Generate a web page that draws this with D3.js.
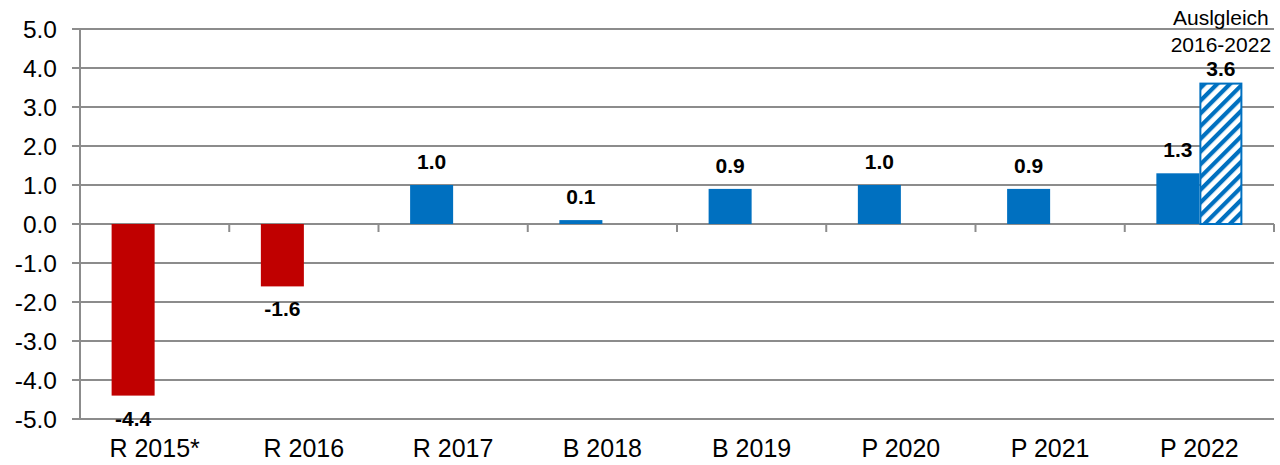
<!DOCTYPE html>
<html>
<head>
<meta charset="utf-8">
<title>Saldo</title>
<script src="https://cdn.jsdelivr.net/npm/d3@7"></script>
<style>
  body { margin: 0; background: #fff; }
  svg text { font-family: "Liberation Sans", Arial, sans-serif; fill: #000; }
</style>
</head>
<body>
<svg id="chart" width="1280" height="465"></svg>
<script>
// data
const categories = ["R 2015*", "R 2016", "R 2017", "B 2018", "B 2019", "P 2020", "P 2021", "P 2022"];
const values = [-4.4, -1.6, 1.0, 0.1, 0.9, 1.0, 0.9, 1.3];
const ausgleichCategory = "P 2022";
const ausgleichValue = 3.6;
const ausgleichTitle = ["Auslgleich", "2016-2022"];
const yTicks = [-5, -4, -3, -2, -1, 0, 1, 2, 3, 4, 5];

const w = 1280, h = 465;
const margin = {top: 29, right: 6, bottom: 46, left: 80};
const red = "#c00000", blue = "#0070c0", grid = "#8c8c8c";

const svg = d3.select("#chart");

const y = d3.scaleLinear().domain([-5, 5]).range([h - margin.bottom, margin.top]);
const x0 = d3.scaleBand().domain(categories).range([margin.left, w - margin.right]).paddingInner(0).paddingOuter(0);
const x1 = d3.scaleBand().domain(["main", "aus"]).range([0, x0.bandwidth()]).paddingInner(0).paddingOuter(0.735);

const fmt = d => d3.format(".1f")(d).replace("−", "-");

// hatch pattern
const defs = svg.append("defs");
const pat = defs.append("pattern")
  .attr("id", "hatch")
  .attr("patternUnits", "userSpaceOnUse")
  .attr("width", 9).attr("height", 9)
  .attr("patternTransform", "rotate(45)");
pat.append("rect").attr("width", 9).attr("height", 9).attr("fill", "#fff");
pat.append("rect").attr("x", 0).attr("width", 4.2).attr("height", 9).attr("fill", blue);

// gridlines
svg.append("g")
  .selectAll("line")
  .data(yTicks)
  .join("line")
  .attr("x1", margin.left - 8)
  .attr("x2", w - margin.right)
  .attr("y1", d => y(d))
  .attr("y2", d => y(d))
  .attr("stroke", grid)
  .attr("stroke-width", 2);

// y labels
svg.append("g")
  .selectAll("text")
  .data(yTicks)
  .join("text")
  .attr("x", 57)
  .attr("y", d => y(d))
  .attr("dy", "0.36em")
  .attr("text-anchor", "end")
  .attr("font-size", 24.5)
  .text(fmt);

// left axis
svg.append("line")
  .attr("x1", margin.left).attr("x2", margin.left)
  .attr("y1", y(5)).attr("y2", y(-5))
  .attr("stroke", grid).attr("stroke-width", 2);

// category tick marks on zero line
const bounds = categories.map(c => x0(c)).concat([x0(categories[categories.length - 1]) + x0.bandwidth()]);
svg.append("g")
  .selectAll("line")
  .data(bounds)
  .join("line")
  .attr("x1", d => d).attr("x2", d => d)
  .attr("y1", y(0)).attr("y2", y(0) + 8)
  .attr("stroke", grid).attr("stroke-width", 2);

// main bars
svg.append("g")
  .selectAll("rect")
  .data(values)
  .join("rect")
  .attr("x", (d, i) => x0(categories[i]) + x1("main"))
  .attr("width", x1.bandwidth())
  .attr("y", d => y(Math.max(0, d)))
  .attr("height", d => Math.abs(y(d) - y(0)))
  .attr("fill", d => d < 0 ? red : blue);

// ausgleich bar
svg.append("rect")
  .attr("x", x0(ausgleichCategory) + x1("aus") + 1)
  .attr("width", x1.bandwidth() - 2)
  .attr("y", y(ausgleichValue))
  .attr("height", y(0) - y(ausgleichValue))
  .attr("fill", "url(#hatch)")
  .attr("stroke", blue)
  .attr("stroke-width", 2);

// value labels
svg.append("g")
  .selectAll("text")
  .data(values)
  .join("text")
  .attr("x", (d, i) => x0(categories[i]) + x1("main") + x1.bandwidth() / 2)
  .attr("y", d => d < 0 ? y(d) + 30 : y(d) - 16)
  .attr("text-anchor", "middle")
  .attr("font-size", 21)
  .attr("font-weight", "bold")
  .text(fmt);

const ausX = x0(ausgleichCategory) + x1("aus") + x1.bandwidth() / 2;
svg.append("text")
  .attr("x", ausX)
  .attr("y", y(ausgleichValue) - 8)
  .attr("text-anchor", "middle")
  .attr("font-size", 21)
  .attr("font-weight", "bold")
  .text(fmt(ausgleichValue));

svg.append("g")
  .selectAll("text")
  .data(ausgleichTitle)
  .join("text")
  .attr("x", ausX)
  .attr("y", (d, i) => 25 + i * 27)
  .attr("text-anchor", "middle")
  .attr("font-size", 21)
  .text(d => d);

// category labels
svg.append("g")
  .selectAll("text")
  .data(categories)
  .join("text")
  .attr("x", d => x0(d) + x0.bandwidth() / 2)
  .attr("y", 457)
  .attr("text-anchor", "middle")
  .attr("font-size", 25)
  .text(d => d);
</script>
</body>
</html>
